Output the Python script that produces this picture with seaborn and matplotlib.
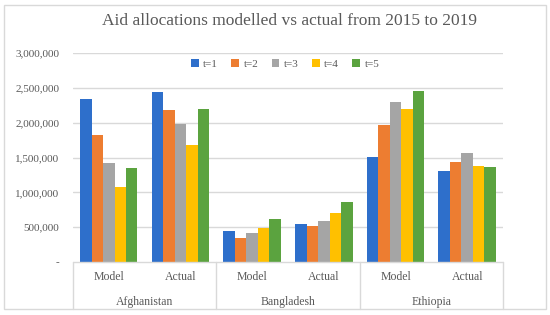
import matplotlib
matplotlib.use("Agg")
import matplotlib.pyplot as plt
import matplotlib.transforms as mtransforms
from matplotlib.patches import Rectangle, Patch
from matplotlib.lines import Line2D
import seaborn as sns
import pandas as pd

countries = ["Afghanistan", "Bangladesh", "Ethiopia"]
kinds = ["Model", "Actual"]
series = ["t=1", "t=2", "t=3", "t=4", "t=5"]
afg_model = [2340000, 1830000, 1420000, 1070000, 1350000]
afg_actual = [2440000, 2180000, 1980000, 1680000, 2200000]
ban_model = [440000, 350000, 410000, 490000, 620000]
ban_actual = [550000, 510000, 590000, 700000, 860000]
eth_model = [1510000, 1960000, 2300000, 2200000, 2460000]
eth_actual = [1300000, 1440000, 1560000, 1380000, 1370000]
yticks = [0, 500000, 1000000, 1500000, 2000000, 2500000, 3000000]
title = "Aid allocations modelled vs actual from 2015 to 2019"

colors = ["#2E6FCB", "#ED7D31", "#A5A5A5", "#FFC000", "#5BA33F"]

groups = [("Afghanistan", "Model", afg_model), ("Afghanistan", "Actual", afg_actual),
          ("Bangladesh", "Model", ban_model), ("Bangladesh", "Actual", ban_actual),
          ("Ethiopia", "Model", eth_model), ("Ethiopia", "Actual", eth_actual)]
rows = []
for c, k, vals in groups:
    for s, v in zip(series, vals):
        rows.append({"cat": f"{c}|{k}", "series": s, "value": v})
df = pd.DataFrame(rows)
order = [f"{c}|{k}" for c, k, _ in groups]

sns.set_theme(style="white")
plt.rcParams["font.family"] = ["Liberation Serif", "DejaVu Serif"]
txt = "#595959"
grid = "#D9D9D9"

fig = plt.figure(figsize=(5.5, 3.15), dpi=100)
W, H = 550, 315
ax = fig.add_axes([73 / W, 1 - 262 / H, (503 - 73) / W, (262 - 53) / H])
sns.barplot(data=df, x="cat", y="value", hue="series", order=order, hue_order=series,
            palette=colors, ax=ax, width=0.8, saturation=1, legend=False,
            linewidth=0, edgecolor="none")
ax.set_xlim(-0.5, 5.5)
ax.set_ylim(0, 3000000)
ax.set_yticks(yticks)
ax.set_yticklabels(["-" if v == 0 else f"{v:,}" for v in yticks], color=txt, fontsize=8)
ax.tick_params(axis="y", length=0, pad=10)
ax.set_xticks([])
ax.set_xlabel("")
ax.set_ylabel("")
for v in yticks[1:]:
    ax.axhline(v, color=grid, lw=1, zorder=0)
for sp in ax.spines.values():
    sp.set_visible(False)
ax.set_axisbelow(True)

# category axis box
tr = mtransforms.blended_transform_factory(ax.transData, fig.transFigure)
y0 = 1 - 262 / H
ybot = 1 - 309 / H
ax.add_line(Line2D([-0.5, 5.5], [y0, y0], transform=tr, color=grid, lw=1, clip_on=False))
for xb in [-0.5, 1.5, 3.5, 5.5]:
    ax.add_line(Line2D([xb, xb], [y0, ybot], transform=tr, color=grid, lw=1, clip_on=False))
for i, (c, k, _) in enumerate(groups):
    ax.text(i, 1 - 277 / H, k, transform=tr, ha="center", va="center", color=txt, fontsize=8.5)
for j, c in enumerate(countries):
    ax.text(2 * j + 0.5, 1 - 302 / H, c, transform=tr, ha="center", va="center", color=txt, fontsize=8.5)

# chart border
fig.patches.append(Rectangle((4 / W, 1 - 309 / H), 542 / W, 304 / H, transform=fig.transFigure,
                             fill=False, edgecolor=grid, lw=1))

fig.text(290 / W, 1 - 21 / H, title, ha="center", va="center", color=txt, fontsize=12.5)

handles = [Patch(facecolor=col, edgecolor="none") for col in colors]
ax.legend(handles, series, ncol=5, loc="center", bbox_to_anchor=(285 / W, 1 - 64 / H),
          bbox_transform=fig.transFigure, frameon=False, fontsize=8,
          handlelength=0.7, handleheight=0.7, handletextpad=0.4, columnspacing=1.2,
          labelcolor=txt)

fig.savefig("out.png", dpi=100)
